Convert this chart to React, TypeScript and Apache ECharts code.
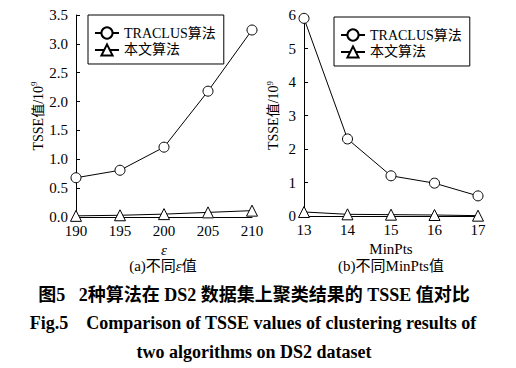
import React, { useEffect, useRef } from 'react';
import * as echarts from 'echarts';

const seriesNames = ['TRACLUS算法', '本文算法'];
const epsCategories = ['190', '195', '200', '205', '210'];
const epsTraclus = [0.68, 0.81, 1.21, 2.18, 3.24];
const epsOurs = [0.02, 0.03, 0.05, 0.08, 0.11];
const minPtsCategories = ['13', '14', '15', '16', '17'];
const minPtsTraclus = [5.9, 2.3, 1.2, 0.98, 0.6];
const minPtsOurs = [0.12, 0.05, 0.04, 0.03, 0.01];
const epsYAxis = { min: 0, max: 3.5, interval: 0.5, digits: 1 };
const minPtsYAxis = { min: 0, max: 6, interval: 1, digits: 0 };

const SERIF = "'Liberation Serif', 'Times New Roman', 'DejaVu Serif', 'Noto Sans CJK SC', serif";

export default function App() {
  const ref = useRef<HTMLDivElement>(null);
  useEffect(() => {
    if (!ref.current) return;
    const chart = echarts.init(ref.current, undefined, { renderer: 'svg' });

    const lineSeries = (name: string, symbol: string, data: number[], idx: number) => ({
      name,
      type: 'line',
      xAxisIndex: idx,
      yAxisIndex: idx,
      data,
      symbol,
      symbolSize: symbol === 'circle' ? 10 : 11,
      showAllSymbol: true,
      lineStyle: { color: '#000', width: 1 },
      itemStyle: { color: '#fff', borderColor: '#000', borderWidth: 1 },
      z: 3,
    });

    const xAxis = (cats: string[], idx: number, name: string, italic: boolean) => ({
      type: 'category',
      gridIndex: idx,
      data: cats,
      boundaryGap: false,
      name,
      nameLocation: 'middle',
      nameGap: 21,
      nameTextStyle: { fontFamily: SERIF, fontSize: 15, color: '#000', fontStyle: italic ? 'italic' : 'normal' },
      axisLine: { show: true, lineStyle: { color: '#000', width: 1 } },
      axisTick: { show: false },
      axisLabel: { color: '#000', fontFamily: SERIF, fontSize: 15, margin: 6 },
      splitLine: { show: false },
    });

    const yAxis = (cfg: typeof epsYAxis, idx: number, gap: number) => ({
      type: 'value',
      gridIndex: idx,
      min: cfg.min,
      max: cfg.max,
      interval: cfg.interval,
      name: 'TSSE值/10{sup|9}',
      nameLocation: 'middle',
      nameGap: gap,
      nameTextStyle: {
        fontFamily: SERIF,
        fontSize: 14,
        color: '#000',
        rich: { sup: { fontFamily: SERIF, fontSize: 9, color: '#000', verticalAlign: 'top', padding: [0, 0, 8, 0] } },
      },
      axisLine: { show: true, lineStyle: { color: '#000', width: 1 } },
      axisTick: { show: true, inside: true, length: 4, lineStyle: { color: '#000' } },
      axisLabel: {
        color: '#000',
        fontFamily: SERIF,
        fontSize: 15,
        margin: 8,
        formatter: (v: number) => v.toFixed(cfg.digits),
      },
      splitLine: { show: false },
    });

    const legend = (left: number, top: number) => ({
      left,
      top,
      orient: 'vertical',
      data: seriesNames,
      borderColor: '#000',
      borderWidth: 1,
      padding: [11, 8, 7, 6],
      itemGap: 3,
      itemWidth: 24,
      itemHeight: 14,
      backgroundColor: '#fff',
      textStyle: { fontFamily: SERIF, fontSize: 14, color: '#000' },
      selectedMode: false,
    });

    chart.setOption({
      animation: false,
      backgroundColor: '#fff',
      grid: [
        { left: 76, top: 15, width: 176, height: 202 },
        { left: 304, top: 15, width: 174, height: 201 },
      ],
      legend: [legend(88, 15), legend(334, 17)],
      xAxis: [xAxis(epsCategories, 0, 'ε', true), xAxis(minPtsCategories, 1, 'MinPts', false)],
      yAxis: [yAxis(epsYAxis, 0, 23), yAxis(minPtsYAxis, 1, 22)],
      series: [
        lineSeries(seriesNames[0], 'circle', epsTraclus, 0),
        lineSeries(seriesNames[1], 'triangle', epsOurs, 0),
        lineSeries(seriesNames[0], 'circle', minPtsTraclus, 1),
        lineSeries(seriesNames[1], 'triangle', minPtsOurs, 1),
      ],
      graphic: [
        {
          type: 'text',
          x: 163,
          y: 266,
          style: {
            text: '(a)不同{i|ε}值',
            fontFamily: SERIF,
            fontSize: 15,
            fill: '#000',
            align: 'center',
            verticalAlign: 'middle',
            rich: { i: { fontFamily: SERIF, fontSize: 15, fontStyle: 'italic', fill: '#000' } },
          },
        },
        {
          type: 'text',
          x: 391,
          y: 266,
          style: { text: '(b)不同MinPts值', fontFamily: SERIF, fontSize: 15, fill: '#000', align: 'center', verticalAlign: 'middle' },
        },
        {
          type: 'text',
          x: 254,
          y: 295,
          style: {
            text: '图5   2种算法在 DS2 数据集上聚类结果的 TSSE 值对比',
            fontFamily: SERIF,
            fontWeight: 'bold',
            fontSize: 18,
            fill: '#000',
            align: 'center',
            verticalAlign: 'middle',
          },
        },
        {
          type: 'text',
          x: 253,
          y: 323,
          style: {
            text: 'Fig.5    Comparison of TSSE values of clustering results of',
            fontFamily: SERIF,
            fontWeight: 'bold',
            fontSize: 18,
            fill: '#000',
            align: 'center',
            verticalAlign: 'middle',
          },
        },
        {
          type: 'text',
          x: 254,
          y: 352,
          style: {
            text: 'two algorithms on DS2 dataset',
            fontFamily: SERIF,
            fontWeight: 'bold',
            fontSize: 18,
            fill: '#000',
            align: 'center',
            verticalAlign: 'middle',
          },
        },
      ],
    });
    return () => chart.dispose();
  }, []);
  return <div ref={ref} style={{ position: 'fixed', left: 0, top: 0, width: 516, height: 368 }} />;
}
